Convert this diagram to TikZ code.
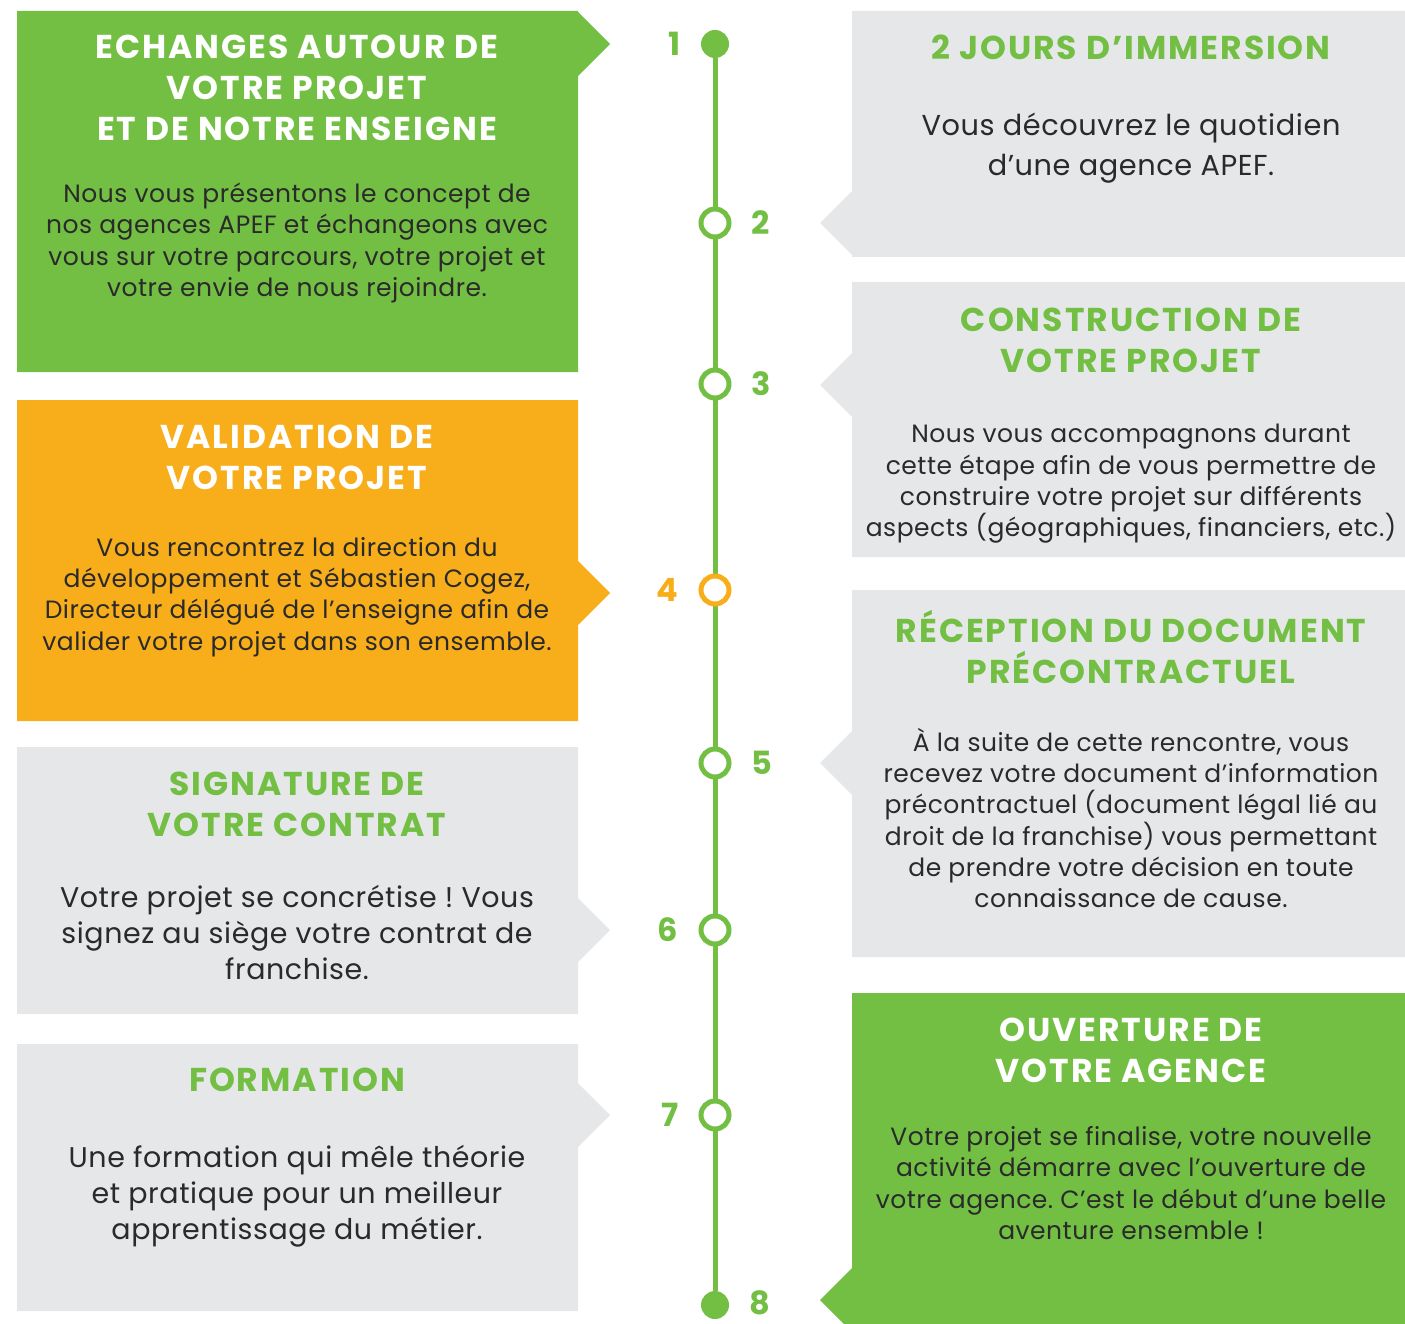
\documentclass[tikz,border=0pt]{standalone}
\usepackage{fontspec}
\setmainfont{Poppins}
\newfontfamily\steptitlefont{Poppins}[LetterSpace=6]
\newfontfamily\stepbodyfont{Poppins}[LetterSpace=2]
\frenchspacing
\usetikzlibrary{positioning}
\usetikzlibrary{backgrounds}
\definecolor{apef-green}{HTML}{72BF44}
\definecolor{apef-orange}{HTML}{F8AD1A}
\definecolor{apef-grey}{HTML}{E6E7E8}
\definecolor{apef-text}{HTML}{2A2A2A}
\colorlet{rail}{apef-green}
\newcommand{\tikzstepleft}[4][]{%
% box with its pointer on the right
\fill[#1] (17,#2) -- (578,#2) -- (578,#4-32) -- (610,#4) -- (578,#4+32) -- (578,#3) -- (17,#3) -- cycle;
}
\newcommand{\tikzstepright}[4][]{%
% box with its pointer on the left
\fill[#1] (1405,#2) -- (852,#2) -- (852,#4-32) -- (820,#4) -- (852,#4+32) -- (852,#3) -- (1405,#3) -- cycle;
}
\tikzset{
  steptitle/.style={font=\steptitlefont\bfseries\fontsize{33}{41}\selectfont, align=center, inner sep=0pt},
  stepbody/.style={font=\stepbodyfont\fontsize{25}{31.3}\selectfont, align=center, text=apef-text, inner sep=0pt},
  stepbodylarge/.style={stepbody, font=\stepbodyfont\fontsize{28.5}{36}\selectfont},
  stepdot/.style={circle, fill=rail, minimum size=28pt, inner sep=0pt},
  stepring/.style={circle, draw=rail, line width=5pt, fill=white, minimum size=28pt, inner sep=0pt},
  stepnum/.style={font=\bfseries\fontsize{32}{32}\selectfont, text=rail, inner sep=0pt},
}

\begin{document}
\begin{tikzpicture}[x=1pt, y=-1pt]
\useasboundingbox (0,0) rectangle (1405,1324);
% boxes
\tikzstepleft[apef-green]{11}{372}{44}
\tikzstepleft[apef-orange]{400}{721}{593}
\tikzstepleft[apef-grey]{747}{1014}{930}
\tikzstepleft[apef-grey]{1044}{1311}{1115}
\tikzstepright[apef-grey]{11}{257}{223}
\tikzstepright[apef-grey]{282}{557}{385}
\tikzstepright[apef-grey]{590}{957}{763}
\tikzstepright[apef-green]{993}{1332}{1300}

% left column
\node[steptitle, text=white] (t1) at (297,88) {ECHANGES AUTOUR DE\\VOTRE PROJET\\ET DE NOTRE ENSEIGNE};
\node[stepbody] (b1) at (297,243) {Nous vous présentons le concept de\\nos agences APEF et échangeons avec\\vous sur votre parcours, votre projet et\\votre envie de nous rejoindre.};
\node[steptitle, text=white] (t4) at (297,457) {VALIDATION DE\\VOTRE PROJET};
\node[stepbody] (b4) at (297,597) {Vous rencontrez la direction du\\développement et Sébastien Cogez,\\Directeur délégué de l’enseigne afin de\\valider votre projet dans son ensemble.};
\node[steptitle, text=apef-green] (t6) at (297,804) {SIGNATURE DE\\VOTRE CONTRAT};
\node[stepbodylarge] (b6) at (297,932) {Votre projet se concrétise ! Vous\\signez au siège votre contrat de\\franchise.};
\node[steptitle, text=apef-green] (t7) at (297,1080) {FORMATION};
\node[stepbodylarge] (b7) at (297,1196) {Une formation qui mêle théorie\\et pratique pour un meilleur\\apprentissage du métier.};

% right column
\node[steptitle, text=apef-green] (t2) at (1131,47) {2 JOURS D’IMMERSION};
\node[stepbody, font=\stepbodyfont\fontsize{28.8}{40}\selectfont] (b2) at (1131,148) {Vous découvrez le quotidien\\d’une agence APEF.};
\node[steptitle, text=apef-green] (t3) at (1131,340) {CONSTRUCTION DE\\VOTRE PROJET};
\node[stepbody] (b3) at (1131,484) {Nous vous accompagnons durant\\cette étape afin de vous permettre de\\construire votre projet sur différents\\aspects (géographiques, financiers, etc.)};
\node[steptitle, text=apef-green] (t5) at (1131,647) {RÉCEPTION DU DOCUMENT\\PRÉCONTRACTUEL};
\node[stepbody] (b5) at (1131,818) {À la suite de cette rencontre, vous\\recevez votre document d’information\\précontractuel (document légal lié au\\droit de la franchise) vous permettant\\de prendre votre décision en toute\\connaissance de cause.};
\node[steptitle, text=white] (t8) at (1131,1050) {OUVERTURE DE\\VOTRE AGENCE};
\node[stepbody] (b8) at (1131,1183) {Votre projet se finalise, votre nouvelle\\activité démarre avec l’ouverture de\\votre agence. C’est le début d’une belle\\aventure ensemble !};

% timeline
\node[stepdot] (d1) at (715,44) {};
\foreach \n/\y in {2/223,3/384,5/763,6/930,7/1115}
  \node[stepring] (d\n) at (715,\y) {};
\node[stepring, draw=apef-orange] (d4) at (715,590) {};
\node[stepdot] (d8) at (715,1305) {};
\begin{scope}[on background layer]
\draw[rail, line width=5pt] (d1) -- (d8);
\end{scope}
\node[stepnum, left=20pt of d1] (n1) {1};
\node[stepnum, right=20pt of d2] (n2) {2};
\node[stepnum, right=20pt of d3] (n3) {3};
\node[stepnum, left=20pt of d4, text=apef-orange] (n4) {4};
\node[stepnum, right=20pt of d5] (n5) {5};
\node[stepnum, left=20pt of d6] (n6) {6};
\node[stepnum, left=20pt of d7] (n7) {7};
\node[stepnum, right=20pt of d8, yshift=2pt] (n8) {8};
\end{tikzpicture}
\end{document}
